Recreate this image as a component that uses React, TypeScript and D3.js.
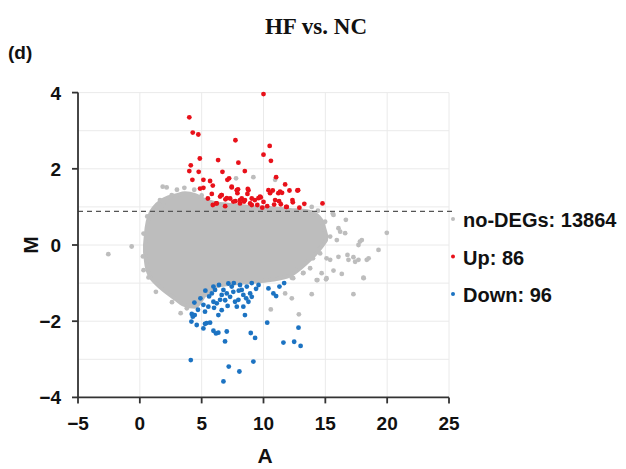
import React from "react";
import * as d3 from "d3";

// ---- data ----
const xTicks = [-5, 0, 5, 10, 15, 20, 25];
const yTicks = [-4, -2, 0, 2, 4];
const yGrid = [-3, -2, -1, 0, 1, 2, 3, 4];
const threshold = 0.88;

// envelope of the dense no-DEG cloud (A, upper M, lower M)
const cloudA = [0.42, 0.55, 0.8, 1.2, 1.7, 2.3, 2.9, 3.66, 4.47, 5.27, 6.08, 7.3, 8.92, 10.54, 12.15, 13.37, 14.18, 14.74, 15.06];
const cloudUpper = [0.0, 0.45, 0.78, 1.0, 1.15, 1.25, 1.3, 1.36, 1.31, 1.18, 1.1, 1.05, 1.0, 0.97, 0.92, 0.89, 0.81, 0.6, 0.26];
const cloudLower = [-0.2, -0.55, -0.8, -0.97, -1.12, -1.28, -1.42, -1.58, -1.62, -1.31, -1.1, -1.02, -0.97, -0.92, -0.8, -0.5, -0.24, -0.02, 0.13];

// scattered no-DEG points outside the cloud [A, M]
const grayPoints: [number, number][] = [
  [-2.55, -0.24], [-0.66, -0.04], [0.3, -0.66], [1.3, -1.23], [3.3, -1.79], [3.8, -1.66],
  [2.17, 1.51], [2.58, 1.31], [1.63, 1.18], [1.9, 1.05], [1.37, 0.87], [1.85, 1.53],
  [9.18, 1.78], [10.94, 1.71], [7.78, 1.75],
  [19.97, 0.32], [17.27, -1.29], [18.08, -0.86], [12.86, -1.82], [10.59, -1.69], [16.66, 0.66],
  [15.66, -0.67], [16.33, -0.76], [15.06, -0.9], [14.36, -0.92], [18.35, -0.39], [17.68, -0.39],
  [17.27, -0.32], [16.79, -0.26], [19.3, -0.13], [17.95, 0.13], [17.68, 0.0], [16.06, 0.44],
  [16.6, 0.31], [15.93, 0.13], [15.39, 0.22], [14.98, 0.61], [15.66, 0.79], [13.77, -0.61],
  [13.23, -0.73], [12.56, -0.66], [12.29, -0.86], [11.75, -1.27], [12.29, -1.4], [13.9, -1.29],
  [14.58, -0.22], [15.1, -0.35], [15.39, -0.39], [16.06, -0.31], [16.87, -0.39], [17.41, -0.44],
  [15.6, 0.83], [16.2, 0.35], [17.8, 0.09], [18.5, -0.35], [14.0, -0.35], [14.7, -0.74],
  [18.1, -0.87], [12.4, -0.87], [13.2, -0.74], [14.3, -0.92], [15.1, -0.87],
  [0.3, 0.3], [0.25, -0.3], [0.6, 0.75], [0.7, -0.85], [2.6, -1.5], [3.0, 1.45], [3.6, 1.5],
  [4.4, 1.45], [5.0, 1.3], [13.9, 1.0], [14.4, 0.9],
];

// up-regulated [A, M]
const upPoints: [number, number][] = [
  [10.0, 3.96], [4.0, 3.35], [4.28, 2.95], [4.73, 2.9], [7.73, 2.75], [10.5, 2.6], [10.0, 2.37],
  [10.6, 2.21], [4.85, 2.27], [6.33, 2.23], [7.97, 2.16], [4.12, 2.09], [4.0, 1.94], [4.76, 1.92],
  [6.68, 1.92], [8.49, 1.94], [11.02, 1.78], [4.25, 1.71], [5.14, 1.71], [5.68, 1.68], [7.22, 1.75],
  [7.08, 1.71], [11.75, 1.59], [5.9, 1.56], [7.43, 1.51], [4.87, 1.48], [5.14, 1.5], [7.94, 1.46],
  [8.73, 1.47], [12.1, 1.43], [12.74, 1.43], [5.82, 1.34], [6.6, 1.31], [7.89, 1.36], [8.7, 1.34],
  [10.4, 1.44], [10.75, 1.43], [11.2, 1.36], [11.5, 1.37], [6.17, 1.09], [6.92, 1.2], [7.3, 1.22],
  [7.73, 1.15], [8.1, 1.09], [8.43, 1.14], [8.92, 1.09], [9.3, 1.18], [9.5, 1.05], [9.78, 1.25],
  [10.0, 1.13], [10.3, 1.02], [10.86, 1.06], [11.26, 1.15], [11.83, 1.0], [12.34, 1.18], [6.49, 1.27],
  [8.24, 1.22], [9.05, 1.22], [12.8, 1.44], [12.37, 1.12], [13.3, 1.08], [14.77, 1.09], [11.4, 1.07],
  [6.62, 1.31], [7.03, 1.23], [7.56, 1.14], [8.5, 1.18], [9.05, 1.05], [9.59, 1.23], [10.53, 1.36],
  [10.94, 1.18], [6.22, 1.09], [7.84, 1.44], [8.78, 1.44], [7.43, 1.53], [8.1, 1.18], [9.72, 1.27],
  [11.34, 1.4], [11.88, 1.0], [5.5, 1.22], [6.9, 1.02], [9.9, 0.98], [12.9, 0.98], [5.9, 1.05],
];

// down-regulated [A, M]
const downPoints: [number, number][] = [
  [4.12, -3.02], [7.19, -3.19], [8.05, -3.32], [6.76, -3.58], [9.18, -3.06], [6.89, -2.53],
  [11.61, -2.56], [12.48, -2.54], [13.0, -2.65], [12.83, -2.17], [10.3, -2.04], [8.97, -2.31],
  [9.32, -2.44], [7.03, -2.27], [5.95, -2.25], [6.16, -2.32], [6.35, -2.3], [5.14, -2.19],
  [5.27, -2.07], [5.68, -2.04], [4.17, -2.01], [4.28, -1.88], [4.2, -1.81], [4.44, -1.84],
  [8.5, -1.84], [6.35, -1.84], [6.62, -1.71], [5.27, -1.75], [5.54, -1.62], [5.14, -1.57],
  [4.41, -1.51], [5.95, -1.49], [6.22, -1.53], [6.49, -1.44], [5.82, -1.27], [6.08, -1.18],
  [5.95, -1.09], [6.76, -1.18], [6.62, -1.31], [7.03, -1.27], [7.16, -1.01], [7.43, -1.09],
  [7.56, -1.23], [7.3, -1.36], [7.7, -1.49], [7.97, -1.44], [7.84, -1.62], [8.1, -1.05],
  [8.24, -1.18], [8.37, -1.31], [8.65, -1.09], [8.92, -1.27], [9.05, -1.0], [8.78, -1.49],
  [8.37, -1.62], [9.05, -1.36], [10.4, -1.14], [10.8, -1.27], [11.02, -1.34], [11.29, -1.09],
  [11.67, -1.0], [5.4, -2.05], [4.9, -1.4], [5.6, -1.35], [6.9, -1.45], [7.6, -1.0],
  [8.0, -1.2], [9.4, -1.15], [6.4, -1.05], [5.3, -1.2], [4.7, -1.7], [6.0, -1.65],
  [7.1, -1.6], [8.6, -1.4], [9.6, -1.05], [4.6, -2.1],
];

const legendItems = [
  { label: "no-DEGs: 13864", color: "#BDBDBD" },
  { label: "Up: 86", color: "#E8111A" },
  { label: "Down: 96", color: "#1C73C2" },
];

const SANS = "'Liberation Sans', Arial, sans-serif";

export default function App() {
  const x = d3.scaleLinear().domain([-5, 25]).range([78, 449]);
  const y = d3.scaleLinear().domain([-4, 4]).range([397.4, 92.6]);

  const cloud = cloudA.map((a, i) => ({ a, u: cloudUpper[i], l: cloudLower[i] }));
  const area = d3
    .area<{ a: number; u: number; l: number }>()
    .x((d) => x(d.a))
    .y0((d) => y(d.l))
    .y1((d) => y(d.u))
    .curve(d3.curveMonotoneX);

  const r = 2.4;
  return (
    <svg width={626} height={469} style={{ position: "absolute", left: 0, top: 0, display: "block" }}>
      <rect x={0} y={0} width={626} height={469} fill="#fff" />
      {/* gridlines */}
      {yGrid.map((t) => (
        <line key={"hy" + t} x1={x(-5)} x2={x(25)} y1={y(t)} y2={y(t)} stroke="#EAEAEA" strokeWidth={1} />
      ))}
      {xTicks.slice(1).map((t) => (
        <line key={"vx" + t} x1={x(t)} x2={x(t)} y1={y(4)} y2={y(-4)} stroke="#EAEAEA" strokeWidth={1} />
      ))}

      {/* cloud */}
      <path d={area(cloud) || ""} fill="#BDBDBD" stroke="#BDBDBD" strokeWidth={4} strokeLinejoin="round" />
      {grayPoints.map((p, i) => (
        <circle key={"g" + i} cx={x(p[0])} cy={y(p[1])} r={r} fill="#BDBDBD" />
      ))}
      {upPoints.map((p, i) => (
        <circle key={"u" + i} cx={x(p[0])} cy={y(p[1])} r={r} fill="#E8111A" />
      ))}
      {downPoints.map((p, i) => (
        <circle key={"d" + i} cx={x(p[0])} cy={y(p[1])} r={r} fill="#1C73C2" />
      ))}

      {/* threshold */}
      <line x1={x(-5)} x2={x(25.5)} y1={y(threshold)} y2={y(threshold)} stroke="#555" strokeWidth={1.3} strokeDasharray="5,4" />

      {/* axes */}
      <line x1={x(-5)} x2={x(-5)} y1={y(4)} y2={y(-4)} stroke="#333" strokeWidth={1.8} />
      <line x1={x(-5)} x2={x(25)} y1={y(-4)} y2={y(-4)} stroke="#333" strokeWidth={1.8} />
      {yTicks.map((t) => (
        <g key={"yt" + t}>
          <line x1={x(-5) - 6} x2={x(-5)} y1={y(t)} y2={y(t)} stroke="#333" strokeWidth={1.8} />
          <text x={61} y={y(t) + 7} textAnchor="end" fontFamily={SANS} fontWeight="bold" fontSize={19} fill="#111">
            {t < 0 ? "\u2212" + Math.abs(t) : String(t)}
          </text>
        </g>
      ))}
      {xTicks.map((t) => (
        <g key={"xt" + t}>
          <line x1={x(t)} x2={x(t)} y1={y(-4)} y2={y(-4) + 6} stroke="#333" strokeWidth={1.8} />
          <text x={x(t)} y={430} textAnchor="middle" fontFamily={SANS} fontWeight="bold" fontSize={19} fill="#111">
            {t < 0 ? "\u2212" + Math.abs(t) : String(t)}
          </text>
        </g>
      ))}
      <text x={265} y={463} textAnchor="middle" fontFamily={SANS} fontWeight="bold" fontSize={21} fill="#111">A</text>
      <text transform={`translate(38,${y(0)}) rotate(-90)`} textAnchor="middle" fontFamily={SANS} fontWeight="bold" fontSize={21} fill="#111">M</text>

      {/* titles */}
      <text x={316} y={34} textAnchor="middle" fontFamily="'Liberation Serif', 'Times New Roman', serif" fontWeight="bold" fontSize={23} fill="#111">HF vs. NC</text>
      <text x={8} y={59} fontFamily={SANS} fontWeight="bold" fontSize={19} fill="#111">(d)</text>

      {/* legend */}
      {legendItems.map((it, i) => (
        <g key={"lg" + i} transform={`translate(0,${219 + i * 37.5})`}>
          <circle cx={453} cy={0} r={2} fill={it.color} />
          <text x={463} y={8} fontFamily={SANS} fontWeight="bold" fontSize={20} fill="#111">{it.label}</text>
        </g>
      ))}
    </svg>
  );
}
